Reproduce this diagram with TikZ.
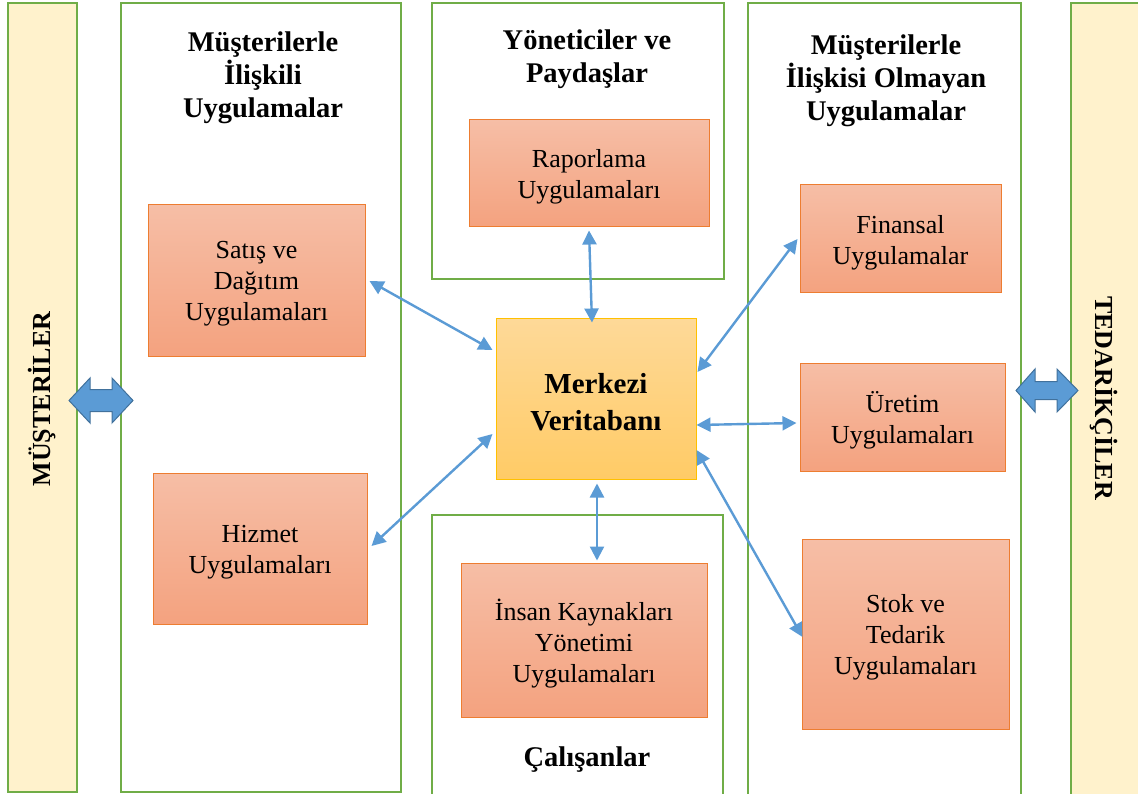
\documentclass[tikz,border=0pt]{standalone}
\usepackage{fontspec}
\setmainfont{Liberation Serif}
\usetikzlibrary{arrows.meta,calc}
\definecolor{grn}{HTML}{70AD47}
\definecolor{lyel}{HTML}{FFF2CC}
\definecolor{orb}{HTML}{ED7D31}
\definecolor{ortop}{HTML}{F6BEA6}
\definecolor{orbot}{HTML}{F4A27F}
\definecolor{gold}{HTML}{FFC000}
\definecolor{gdtop}{HTML}{FED998}
\definecolor{gdbot}{HTML}{FFCB66}
\definecolor{lblue}{HTML}{5B9BD5}
\definecolor{dblue}{HTML}{41719C}
\begin{document}
\begin{tikzpicture}[x=1pt,y=-1pt,
  group/.style={draw=grn, line width=2.5pt},
  bar/.style={group, fill=lyel},
  app/.style={draw=orb, line width=1pt, top color=ortop, bottom color=orbot, inner sep=0pt},
  apptext/.style={align=center, inner sep=0pt, yshift=-3.5pt, font=\fontsize{26}{31}\selectfont},
  core/.style={draw=gold, line width=1pt, top color=gdtop, bottom color=gdbot, inner sep=0pt},
  coretext/.style={align=center, inner sep=0pt, yshift=-3pt, font=\bfseries\fontsize{29}{37}\selectfont},
  title/.style={align=center, inner sep=0pt, font=\bfseries\fontsize{28.5}{33}\selectfont},
  side/.style={inner sep=0pt, font=\bfseries\fontsize{26}{30}\selectfont},
  link/.style={lblue, line width=2.4pt,
    arrows={Triangle[length=14pt,width=14pt]-Triangle[length=14pt,width=14pt]}},
  fat/.style={fill=lblue, draw=dblue, line width=1pt, line join=miter}]
\useasboundingbox (0,0) rectangle (1138,794);

% outer bars and groups
\draw[bar] (8,3) rectangle (77,792);
\draw[bar] (1071,3) rectangle (1142,800);
\draw[group] (121,3) rectangle (401,792);
\draw[group] (432,3) rectangle (724,279);
\draw[group] (432,515) rectangle (723,800);
\draw[group] (748,3) rectangle (1021,800);

\node[side, rotate=90] (cus) at (42.5,399) {MÜŞTERİLER};
\node[side, rotate=-90] (sup) at (1104,398) {TEDARİKÇİLER};

% group titles
\node[title] (t1) at (263,78) {Müşterilerle\\İlişkili\\Uygulamalar};
\node[title] (t2) at (587,59) {Yöneticiler ve\\Paydaşlar};
\node[title] (t3) at (886,81) {Müşterilerle\\İlişkisi Olmayan\\Uygulamalar};
\node[title] (t4) at (587,760) {Çalışanlar};

% applications
\node[app, minimum width=240pt, minimum height=107pt,
  label={[apptext]center:Raporlama\\Uygulamaları}] (rap) at (589,173.5) {};
\node[app, minimum width=217pt, minimum height=151pt,
  label={[apptext]center:Satış ve\\Dağıtım\\Uygulamaları}] (sat) at (256.5,280.5) {};
\node[app, minimum width=214pt, minimum height=151pt,
  label={[apptext]center:Hizmet\\Uygulamaları}] (hiz) at (260,548.5) {};
\node[app, minimum width=201pt, minimum height=108pt,
  label={[apptext]center:Finansal\\Uygulamalar}] (fin) at (900.5,239) {};
\node[app, minimum width=205pt, minimum height=108pt,
  label={[apptext]center:Üretim\\Uygulamaları}] (ure) at (902.5,417) {};
\node[app, minimum width=207pt, minimum height=190pt,
  label={[apptext]center:Stok ve\\Tedarik\\Uygulamaları}] (stk) at (905.5,634) {};
\node[app, minimum width=246pt, minimum height=154pt,
  label={[apptext]center:İnsan Kaynakları\\Yönetimi\\Uygulamaları}] (ik) at (584,640) {};
\node[core, minimum width=200pt, minimum height=160pt,
  label={[coretext]center:Merkezi\\Veritabanı}] (mv) at (596,399) {};

% links to the central database
\draw[link] ($(sat.east)+(4,0.5)$) -- ($(mv.west)+(-3,-49)$);
\draw[link] ($(hiz.east)+(4,-2.5)$) -- ($(mv.west)+(-3,35)$);
\draw[link] ($(rap.south)+(0,3)$) -- ($(mv.north)+(-4,4)$);
\draw[link] ($(mv.south)+(1,4)$) -- ($(ik.north)+(13,-2)$);
\draw[link] ($(fin.west)+(-2,0)$) -- ($(mv.east)+(1,-27)$);
\draw[link] ($(mv.east)+(0,26)$) -- ($(ure.west)+(-3,6)$);
\draw[link] ($(mv.east)+(0,51)$) -- ($(stk.west)+(1,3)$);

% exchange with customers and suppliers
\draw[fat] (69,400.5) -- (90,378) -- (90,389.5) -- (112,389.5) -- (112,378) -- (133,400.5)
  -- (112,423) -- (112,411.5) -- (90,411.5) -- (90,423) -- cycle;
\draw[fat] (1016,390.5) -- (1035,369) -- (1035,381.5) -- (1057,381.5) -- (1057,369) -- (1078,390.5)
  -- (1057,412) -- (1057,399.5) -- (1035,399.5) -- (1035,412) -- cycle;
\end{tikzpicture}
\end{document}
